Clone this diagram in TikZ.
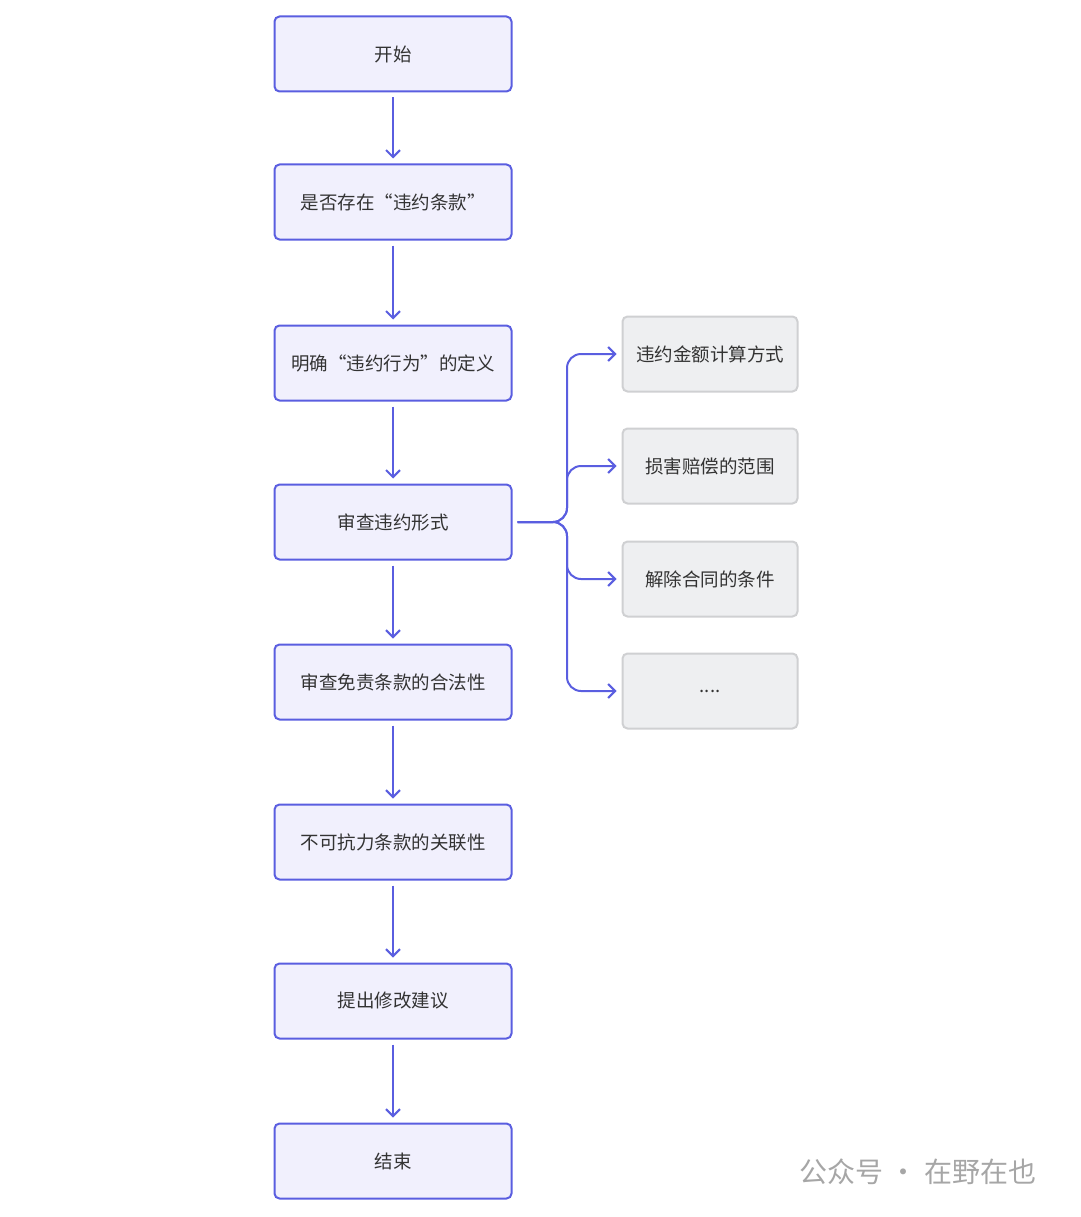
\documentclass[tikz,border=0pt]{standalone}
\usepackage{fontspec}
\setmainfont{Noto Sans CJK SC}
\usetikzlibrary{arrows.meta}
\definecolor{bd}{HTML}{5A5EE0}
\definecolor{fl}{HTML}{F1F0FD}
\definecolor{gbd}{HTML}{CFD0D2}
\definecolor{gfl}{HTML}{EEEFF1}
\definecolor{tx}{HTML}{333333}
\begin{document}
\begin{tikzpicture}[x=1pt,y=-1pt,
 mb/.style={draw=bd,fill=fl,line width=2pt,rounded corners=5pt,minimum width=237pt,minimum height=75pt,font=\fontsize{18.5}{22}\selectfont,text=tx},
 gb/.style={draw=gbd,fill=gfl,line width=2pt,rounded corners=5pt,minimum width=175pt,minimum height=75pt,font=\fontsize{18.5}{22}\selectfont,text=tx},
 ar/.style={draw=bd,line width=2pt,-{Straight Barb[length=7pt,width=14pt]},shorten >=5pt,shorten <=5pt}]
\useasboundingbox (0,0) rectangle (1080,1217);
\node[mb] (a) at (393,54) {开始};
\node[mb] (b) at (393,202) {是否存在“违约条款”};
\node[mb] (c) at (393,363) {明确“违约行为”的定义};
\node[mb] (d) at (393,522) {审查违约形式};
\node[mb] (e) at (393,682) {审查免责条款的合法性};
\node[mb] (f) at (393,842) {不可抗力条款的关联性};
\node[mb] (g) at (393,1001) {提出修改建议};
\node[mb] (h) at (393,1161) {结束};
\node[gb] (r1) at (710,354) {违约金额计算方式};
\node[gb] (r2) at (710,466) {损害赔偿的范围};
\node[gb] (r3) at (710,579) {解除合同的条件};
\node[gb] (r4) at (710,691) {....};
\foreach \u/\v in {a/b,b/c,c/d,d/e,e/f,f/g,g/h} \draw[ar] (\u) -- (\v);
\foreach \r in {r1,r2,r3,r4} \draw[ar,rounded corners=14pt] (d.east) -- (567,522) |- (\r.west);
\node[anchor=west,text=gray!70,font=\fontsize{28}{32}\selectfont] (wm) at (796,1172) {公众号 · 在野在也};
\end{tikzpicture}
\end{document}
